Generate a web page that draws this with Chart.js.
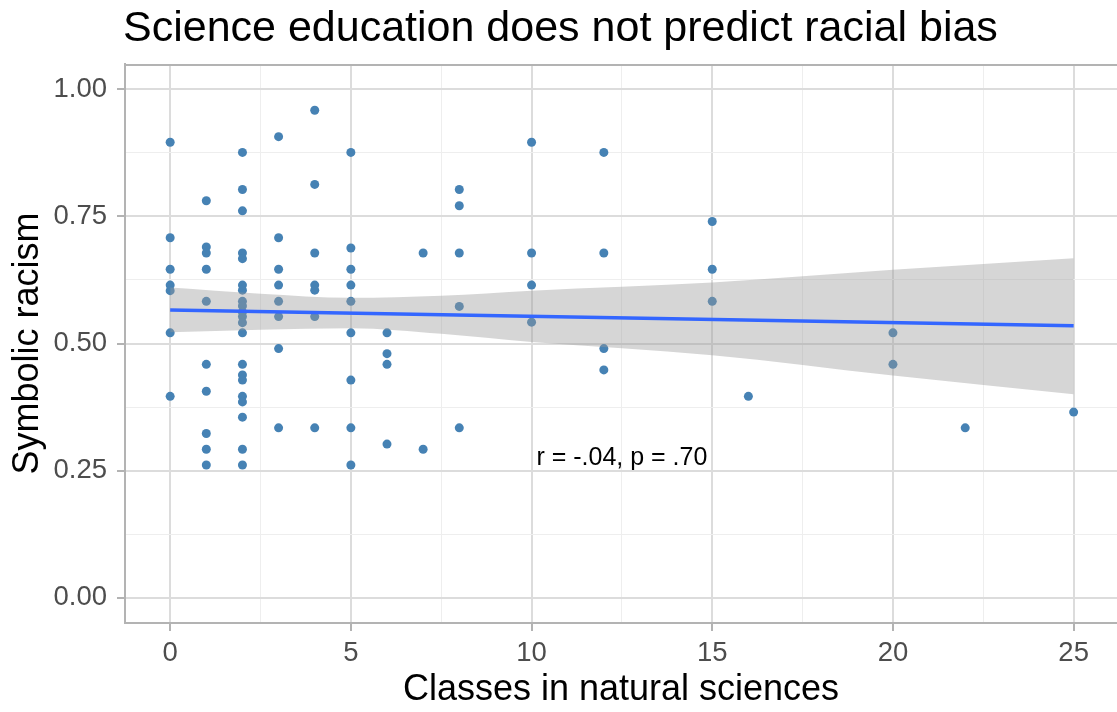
<!DOCTYPE html>
<html>
<head>
<meta charset="utf-8">
<script src="https://cdn.jsdelivr.net/npm/chart.js@4.4.1/dist/chart.umd.min.js"></script>
<style>
  html, body { margin: 0; padding: 0; background: #fff; overflow: hidden; }
</style>
</head>
<body>
<canvas id="chart" width="1117" height="712"></canvas>
<script>
// Scatter of science classes vs symbolic racism, with lm fit + 95% band
const FONT = '"Liberation Sans", Arial, sans-serif';

const classCounts = [0, 1, 2, 3, 4, 5, 6, 7, 8, 10, 12, 15, 16, 20, 22, 25];
const racismByClass = [
    [0.896, 0.708, 0.646, 0.615, 0.604, 0.521, 0.396],
    [0.781, 0.690, 0.678, 0.646, 0.583, 0.459, 0.406, 0.323, 0.292, 0.261],
    [0.876, 0.803, 0.761, 0.678, 0.667, 0.615, 0.605, 0.583, 0.574, 0.562, 0.553, 0.541, 0.521,
     0.459, 0.438, 0.428, 0.396, 0.385, 0.355, 0.292, 0.261],
    [0.907, 0.708, 0.646, 0.615, 0.583, 0.553, 0.490, 0.334],
    [0.959, 0.813, 0.678, 0.615, 0.605, 0.553, 0.334],
    [0.876, 0.688, 0.646, 0.615, 0.583, 0.521, 0.428, 0.334, 0.261],
    [0.521, 0.480, 0.459, 0.302],
    [0.678, 0.292],
    [0.803, 0.771, 0.678, 0.573, 0.334],
    [0.896, 0.678, 0.615, 0.542],
    [0.876, 0.678, 0.490, 0.448],
    [0.740, 0.646, 0.583],
    [0.396],
    [0.521, 0.459],
    [0.334],
    [0.365]
];

// fitted line and confidence band
const fitX = [0, 2.5, 5, 7.5, 10, 15, 20, 25];
const fitY = [0.566, 0.563, 0.560, 0.557, 0.553, 0.548, 0.541, 0.535];
const bandUpper = [0.610, 0.598, 0.590, 0.594, 0.604, 0.620, 0.645, 0.668];
const bandLower = [0.522, 0.527, 0.530, 0.519, 0.503, 0.477, 0.437, 0.400];

const xTicks = [0, 5, 10, 15, 20, 25];
const xMinor = [2.5, 7.5, 12.5, 17.5, 22.5];
const yTicks = [0, 0.25, 0.5, 0.75, 1];
const yMinor = [0.125, 0.375, 0.625, 0.875];

const annotText = 'r = -.04, p = .70';
const annotX = 12.5;
const annotY = 0.275;

const points = [];
classCounts.forEach((c, i) => racismByClass[i].forEach(v => points.push({ x: c, y: v })));
const toXY = (xs, ys) => xs.map((x, i) => ({ x, y: ys[i] }));

const isMajor = (list, v) => list.some(t => Math.abs(t - v) < 1e-9);

const panelPlugin = {
    id: 'panel',
    afterDatasetsDraw(chart) {
        const { ctx, chartArea: a, scales } = chart;
        ctx.save();
        // top border of the panel
        ctx.strokeStyle = '#B3B3B3';
        ctx.lineWidth = 2;
        ctx.beginPath();
        ctx.moveTo(a.left, a.top + 1);
        ctx.lineTo(a.right, a.top + 1);
        ctx.stroke();
        // annotation
        ctx.fillStyle = '#000';
        ctx.font = '25px ' + FONT;
        ctx.textAlign = 'center';
        ctx.textBaseline = 'middle';
        ctx.fillText(annotText, scales.x.getPixelForValue(annotX), scales.y.getPixelForValue(annotY));
        // title
        ctx.font = '43px ' + FONT;
        ctx.textAlign = 'left';
        ctx.textBaseline = 'alphabetic';
        ctx.fillText('Science education does not predict racial bias', a.left - 2, 41);
        ctx.restore();
    }
};

new Chart(document.getElementById('chart'), {
    type: 'scatter',
    data: {
        datasets: [
            {
                type: 'line',
                data: toXY([fitX[0], fitX[fitX.length - 1]], [fitY[0], fitY[fitY.length - 1]]),
                borderColor: '#3366FF',
                borderWidth: 3.5,
                pointRadius: 0,
                fill: false,
                order: 0
            },
            {
                type: 'line',
                data: toXY(fitX, bandUpper),
                borderWidth: 0,
                borderColor: 'rgba(0,0,0,0)',
                pointRadius: 0,
                tension: 0.4,
                cubicInterpolationMode: 'monotone',
                fill: false,
                order: 1
            },
            {
                type: 'line',
                data: toXY(fitX, bandLower),
                borderWidth: 0,
                borderColor: 'rgba(0,0,0,0)',
                pointRadius: 0,
                tension: 0.4,
                cubicInterpolationMode: 'monotone',
                fill: '-1',
                backgroundColor: 'rgba(153,153,153,0.4)',
                order: 1
            },
            {
                data: points,
                backgroundColor: '#4682B4',
                borderWidth: 0,
                pointRadius: 4.5,
                order: 2
            }
        ]
    },
    options: {
        responsive: false,
        animation: false,
        layout: { autoPadding: false, padding: { top: 64, right: 0, bottom: 0, left: 0 } },
        plugins: { legend: { display: false }, tooltip: { enabled: false } },
        scales: {
            x: {
                type: 'linear',
                min: -1.25,
                max: 26.2,
                afterBuildTicks: s => { s.ticks = xTicks.concat(xMinor).sort((a, b) => a - b).map(v => ({ value: v })); },
                afterFit: s => { s.height = 89; },
                grid: {
                    color: c => isMajor(xTicks, c.tick.value) ? '#DCDCDC' : '#EEEEEE',
                    lineWidth: c => isMajor(xTicks, c.tick.value) ? 2 : 1,
                    tickColor: c => isMajor(xTicks, c.tick.value) ? '#B3B3B3' : 'rgba(0,0,0,0)',
                    tickWidth: 2,
                    tickLength: 8
                },
                border: { display: true, color: '#B3B3B3', width: 2 },
                ticks: {
                    autoSkip: false,
                    maxRotation: 0,
                    padding: 6,
                    color: '#4D4D4D',
                    font: { family: FONT, size: 27.5 },
                    callback: v => isMajor(xTicks, v) ? String(v) : ''
                },
                title: {
                    display: true,
                    text: 'Classes in natural sciences',
                    color: '#000',
                    font: { family: FONT, size: 36 },
                    padding: { top: 0, bottom: 0 }
                }
            },
            y: {
                type: 'linear',
                min: -0.05,
                max: 1.05,
                afterBuildTicks: s => { s.ticks = yTicks.concat(yMinor).sort((a, b) => a - b).map(v => ({ value: v })); },
                afterFit: s => { s.width = 125; },
                grid: {
                    color: c => isMajor(yTicks, c.tick.value) ? '#DCDCDC' : '#EEEEEE',
                    lineWidth: c => isMajor(yTicks, c.tick.value) ? 2 : 1,
                    tickColor: c => isMajor(yTicks, c.tick.value) ? '#B3B3B3' : 'rgba(0,0,0,0)',
                    tickWidth: 2,
                    tickLength: 8
                },
                border: { display: true, color: '#B3B3B3', width: 2 },
                ticks: {
                    autoSkip: false,
                    padding: 10,
                    color: '#4D4D4D',
                    font: { family: FONT, size: 27.5 },
                    callback: v => isMajor(yTicks, v) ? v.toFixed(2) : ''
                },
                title: {
                    display: true,
                    text: 'Symbolic racism',
                    color: '#000',
                    font: { family: FONT, size: 36 },
                    padding: { top: 6, bottom: 0 }
                }
            }
        }
    },
    plugins: [panelPlugin]
});
</script>
</body>
</html>
